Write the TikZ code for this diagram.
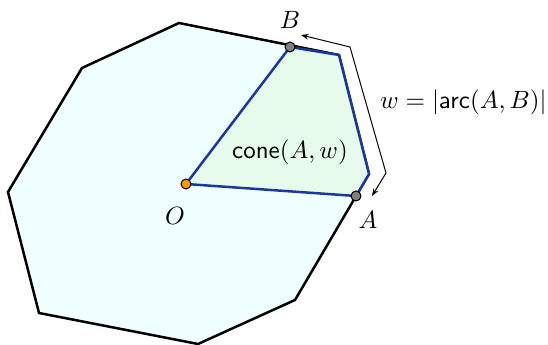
\documentclass[tikz,border=0pt]{standalone}
\usetikzlibrary{arrows.meta}
\definecolor{polyfill}{HTML}{F0FFFF}
\definecolor{conefill}{HTML}{E6FBEB}
\definecolor{coneblue}{HTML}{1B36A8}
\definecolor{ptorange}{HTML}{FF9900}
\definecolor{ptgray}{HTML}{808080}
\begin{document}
\begin{tikzpicture}[x=0.4pt,y=-0.4pt,
  poly/.style={draw=black,line width=1pt,fill=polyfill,line join=miter},
  conereg/.style={draw=coneblue,line width=1pt,fill=conefill,line join=round},
  pt/.style={circle,draw=black,line width=0.4pt,inner sep=0pt,minimum size=4pt},
  arcarrow/.style={line width=0.4pt,{Stealth[length=3pt,width=2.2pt]}-{Stealth[length=3pt,width=2.2pt]}},
  lbl/.style={inner sep=0pt}]
\useasboundingbox (0,0) rectangle (548,345);
% polygon vertices
\coordinate (p1) at (179,23);
\coordinate (p2) at (339,55);
\coordinate (p3) at (369,174);
\coordinate (p4) at (295,300);
\coordinate (p5) at (198,344);
\coordinate (p6) at (39,313);
\coordinate (p7) at (8,192);
\coordinate (p8) at (82,68);
\coordinate (Oc) at (186,184);
\coordinate (Ac) at (356,196);
\coordinate (Bc) at (290,47);
\draw[poly] (p1) -- (p2) -- (p3) -- (p4) -- (p5) -- (p6) -- (p7) -- (p8) -- cycle;
\draw[conereg] (Oc) -- (Ac) -- (p3) -- (p2) -- (Bc) -- cycle;
\node[pt,fill=ptorange] (O) at (Oc) {};
\node[pt,fill=ptgray] (A) at (Ac) {};
\node[pt,fill=ptgray] (B) at (Bc) {};
\node[lbl] (Olbl) at (175,216) {$O$};
\node[lbl] (Albl) at (368,220) {$A$};
\node[lbl] (Blbl) at (290,20) {$B$};
\node[lbl] (conelbl) at (290,152) {$\mathsf{cone}(A,w)$};
\node[lbl,anchor=east] (wlbl) at (547,102) {$w=|\mathsf{arc}(A,B)|$};
% arc arrow
\coordinate (a0) at (301,35);
\coordinate (a1) at (350,47);
\coordinate (a2) at (386,173);
\coordinate (a3) at (372,196);
\draw[arcarrow] (a0) -- (a1) -- (a2) -- (a3);
\end{tikzpicture}
\end{document}
